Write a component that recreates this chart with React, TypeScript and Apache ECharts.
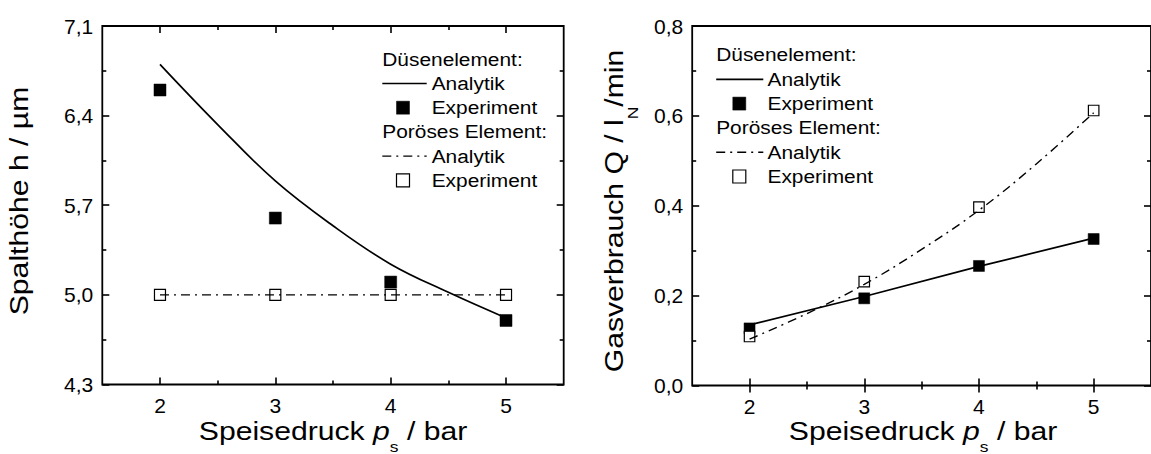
import React, { useEffect, useRef } from 'react';
import * as echarts from 'echarts';

const FONT = '"Liberation Sans", Arial, Helvetica, sans-serif';

// ---- data ----
const pressures = [2, 3, 4, 5];
const curvePressures = [2, 2.5, 3, 3.5, 4, 4.5, 5];

const gapNozzleAnalytic = [6.8, 6.33, 5.89, 5.54, 5.24, 5.02, 4.82];
const gapNozzleExperiment = [6.6, 5.6, 5.1, 4.8];
const gapPorousAnalytic = [5.0, 5.0, 5.0, 5.0];
const gapPorousExperiment = [5.0, 5.0, 5.0, 5.0];

const flowNozzleAnalytic = [0.135, 0.198, 0.265, 0.328];
const flowNozzleExperiment = [0.127, 0.194, 0.266, 0.326];
const flowPorousAnalytic = [0.103, 0.16, 0.225, 0.303, 0.39, 0.493, 0.607];
const flowPorousExperiment = [0.109, 0.231, 0.397, 0.612];

// ---- ticks ----
const pressureTicks = [2, 3, 4, 5];
const pressureMinorTicks = [2.5, 3.5, 4.5];
const gapTicks = [4.3, 5.0, 5.7, 6.4, 7.1];
const gapMinorTicks = [4.65, 5.35, 6.05, 6.75];
const flowTicks = [0, 0.2, 0.4, 0.6, 0.8];
const flowMinorTicks = [0.1, 0.3, 0.5, 0.7];

const legendHeaders = ['Düsenelement:', 'Poröses Element:'];
const legendLabels = ['Analytik', 'Experiment'];

const pairs = (xs: number[], ys: number[]) => xs.map((x, i) => [x, ys[i]]);
const fmtComma = (v: number) => v.toFixed(1).replace('.', ',');

const tickStyle = { color: '#000', width: 1.6 };
const LABEL_SIZE = 21;

function xAxesFor(gridIndex: number) {
  const base = {
    type: 'value',
    gridIndex,
    min: 1.5,
    max: 5.5,
    axisLine: { show: false },
    splitLine: { show: false },
  };
  return [
    {
      ...base,
      position: 'bottom',
      axisTick: { show: true, inside: true, length: 7, customValues: pressureTicks, lineStyle: tickStyle },
      axisLabel: {
        show: true,
        customValues: pressureTicks,
        formatter: (v: number) => String(v),
        fontSize: LABEL_SIZE,
        fontFamily: FONT,
        color: '#000',
        margin: 10,
      },
    },
    {
      ...base,
      position: 'bottom',
      axisTick: { show: true, inside: true, length: 4, customValues: pressureMinorTicks, lineStyle: tickStyle },
      axisLabel: { show: false },
    },
    {
      ...base,
      position: 'top',
      axisTick: { show: true, inside: true, length: 7, customValues: pressureTicks, lineStyle: tickStyle },
      axisLabel: { show: false },
    },
    {
      ...base,
      position: 'top',
      axisTick: { show: true, inside: true, length: 4, customValues: pressureMinorTicks, lineStyle: tickStyle },
      axisLabel: { show: false },
    },
  ];
}

function yAxesFor(gridIndex: number, min: number, max: number, major: number[], minor: number[]) {
  const base = {
    type: 'value',
    gridIndex,
    min,
    max,
    axisLine: { show: false },
    splitLine: { show: false },
  };
  return [
    {
      ...base,
      position: 'left',
      axisTick: { show: true, inside: true, length: 7, customValues: major, lineStyle: tickStyle },
      axisLabel: {
        show: true,
        customValues: major,
        formatter: fmtComma,
        fontSize: LABEL_SIZE,
        fontFamily: FONT,
        color: '#000',
        margin: 9,
      },
    },
    {
      ...base,
      position: 'left',
      axisTick: { show: true, inside: true, length: 4, customValues: minor, lineStyle: tickStyle },
      axisLabel: { show: false },
    },
    {
      ...base,
      position: 'right',
      axisTick: { show: true, inside: true, length: 7, customValues: major, lineStyle: tickStyle },
      axisLabel: { show: false },
    },
    {
      ...base,
      position: 'right',
      axisTick: { show: true, inside: true, length: 4, customValues: minor, lineStyle: tickStyle },
      axisLabel: { show: false },
    },
  ];
}

const SX = 1.16;
const mainTok = { fontSize: 26, fontFamily: FONT, fill: '#000' };
// subscript lowered via a taller line box and bottom alignment
const subTokX = { fontSize: 15, fontFamily: FONT, fill: '#000', verticalAlign: 'bottom', lineHeight: 45 };
const subTokY = { fontSize: 15, fontFamily: FONT, fill: '#000', verticalAlign: 'bottom', lineHeight: 52 };

function legendGroup(x0: number, y0: number, lineEnd: number, textX: number, sqX: number, step: number) {
  const els: any[] = [];
  const txt = (x: number, y: number, t: string) => ({
    type: 'text',
    x,
    y,
    scaleX: SX,
    silent: true,
    style: { text: t, fontSize: 18, fontFamily: FONT, fill: '#000', align: 'left', verticalAlign: 'middle' },
  });
  const sq = (cx: number, cy: number, filled: boolean) => ({
    type: 'rect',
    silent: true,
    shape: { x: cx - 6.5, y: cy - 6.5, width: 13, height: 13 },
    style: filled
      ? { fill: '#000', stroke: '#000', lineWidth: 0.5 }
      : { fill: '#fff', stroke: '#000', lineWidth: 1.2 },
  });
  const ln = (y: number, dash: any) => ({
    type: 'line',
    silent: true,
    shape: { x1: x0, y1: y, x2: lineEnd, y2: y },
    style: { stroke: '#000', lineWidth: dash ? 1.4 : 1.7, lineDash: dash || null },
  });
  els.push(txt(x0, y0, legendHeaders[0]));
  els.push(ln(y0 + step, null));
  els.push(txt(textX, y0 + step, legendLabels[0]));
  els.push(sq(sqX, y0 + 2 * step, true));
  els.push(txt(textX, y0 + 2 * step, legendLabels[1]));
  els.push(txt(x0, y0 + 3 * step, legendHeaders[1]));
  els.push(ln(y0 + 4 * step, [9, 5, 2, 5]));
  els.push(txt(textX, y0 + 4 * step, legendLabels[0]));
  els.push(sq(sqX, y0 + 5 * step, false));
  els.push(txt(textX, y0 + 5 * step, legendLabels[1]));
  return els;
}

const option: any = {
  animation: false,
  backgroundColor: '#fff',
  textStyle: { fontFamily: FONT, fontSize: LABEL_SIZE, color: '#000' },
  grid: [
    { left: 102.3, top: 26, width: 461.4, height: 358.5, show: true, borderColor: '#000', borderWidth: 1.8, backgroundColor: 'transparent' },
    { left: 692.2, top: 26, width: 462.3, height: 359.5, show: true, borderColor: '#000', borderWidth: 1.8, backgroundColor: 'transparent' },
  ],
  xAxis: [...xAxesFor(0), ...xAxesFor(1)],
  yAxis: [
    ...yAxesFor(0, 4.3, 7.1, gapTicks, gapMinorTicks),
    ...yAxesFor(1, 0, 0.8, flowTicks, flowMinorTicks),
  ],
  series: [
    // left panel
    {
      type: 'line', xAxisIndex: 0, yAxisIndex: 0, symbol: 'none', smooth: 0.4,
      data: pairs(curvePressures, gapNozzleAnalytic),
      lineStyle: { color: '#000', width: 1.7 }, silent: true,
    },
    {
      type: 'line', xAxisIndex: 0, yAxisIndex: 0, symbol: 'none',
      data: pairs(pressures, gapPorousAnalytic),
      lineStyle: { color: '#000', width: 1.4, type: [9, 5, 2, 5] }, silent: true,
    },
    {
      type: 'scatter', xAxisIndex: 0, yAxisIndex: 0, symbol: 'rect', symbolSize: 12,
      data: pairs(pressures, gapNozzleExperiment),
      itemStyle: { color: '#000', borderColor: '#000', borderWidth: 0.5, opacity: 1 }, silent: true,
    },
    {
      type: 'scatter', xAxisIndex: 0, yAxisIndex: 0, symbol: 'rect', symbolSize: 11,
      data: pairs(pressures, gapPorousExperiment),
      itemStyle: { color: '#fff', borderColor: '#000', borderWidth: 1.2, opacity: 1 }, silent: true,
    },
    // right panel
    {
      type: 'line', xAxisIndex: 4, yAxisIndex: 4, symbol: 'none',
      data: pairs(pressures, flowNozzleAnalytic),
      lineStyle: { color: '#000', width: 1.7 }, silent: true,
    },
    {
      type: 'line', xAxisIndex: 4, yAxisIndex: 4, symbol: 'none', smooth: 0.4,
      data: pairs(curvePressures, flowPorousAnalytic),
      lineStyle: { color: '#000', width: 1.4, type: [9, 5, 2, 5] }, silent: true,
    },
    {
      type: 'scatter', xAxisIndex: 4, yAxisIndex: 4, symbol: 'rect', symbolSize: 11,
      data: pairs(pressures, flowNozzleExperiment),
      itemStyle: { color: '#000', borderColor: '#000', borderWidth: 0.5, opacity: 1 }, silent: true,
    },
    {
      type: 'scatter', xAxisIndex: 4, yAxisIndex: 4, symbol: 'rect', symbolSize: 10.5,
      data: pairs(pressures, flowPorousExperiment),
      itemStyle: { color: '#fff', borderColor: '#000', borderWidth: 1.2, opacity: 1 }, silent: true,
    },
  ],
  graphic: [
    // axis titles
    {
      type: 'text', x: 333, y: 431, scaleX: SX, silent: true,
      style: {
        text: '{m|Speisedruck }{i|p}{s|s}{m| / bar}',
        rich: { m: mainTok, i: { ...mainTok, fontStyle: 'italic' }, s: subTokX },
        align: 'center', verticalAlign: 'middle', fill: '#000', fontFamily: FONT, fontSize: 26,
      },
    },
    {
      type: 'text', x: 923, y: 431, scaleX: SX, silent: true,
      style: {
        text: '{m|Speisedruck }{i|p}{s|s}{m| / bar}',
        rich: { m: mainTok, i: { ...mainTok, fontStyle: 'italic' }, s: subTokX },
        align: 'center', verticalAlign: 'middle', fill: '#000', fontFamily: FONT, fontSize: 26,
      },
    },
    {
      type: 'text', x: 19.6, y: 201, rotation: Math.PI / 2, scaleX: SX, silent: true,
      style: {
        text: 'Spalthöhe h / µm',
        align: 'center', verticalAlign: 'middle', fill: '#000', fontFamily: FONT, fontSize: 26,
      },
    },
    {
      type: 'text', x: 614.3, y: 211, rotation: Math.PI / 2, scaleX: SX, silent: true,
      style: {
        text: '{m|Gasverbrauch Q / l}{s|N}{m|/min}',
        rich: { m: mainTok, s: subTokY },
        align: 'center', verticalAlign: 'middle', fill: '#000', fontFamily: FONT, fontSize: 26,
      },
    },
    ...legendGroup(382.3, 59.3, 426.7, 431.7, 403, 24.2),
    ...legendGroup(716.2, 55, 763.3, 767.5, 739.3, 24.3),
  ],
};

export default function App() {
  const ref = useRef<HTMLDivElement>(null);
  useEffect(() => {
    if (!ref.current) return;
    const chart = echarts.init(ref.current, null, { renderer: 'svg', width: 1151, height: 454 });
    chart.setOption(option);
    return () => chart.dispose();
  }, []);
  return (
    <div
      ref={ref}
      style={{ position: 'fixed', left: 0, top: 0, width: 1151, height: 454, background: '#fff' }}
    />
  );
}
